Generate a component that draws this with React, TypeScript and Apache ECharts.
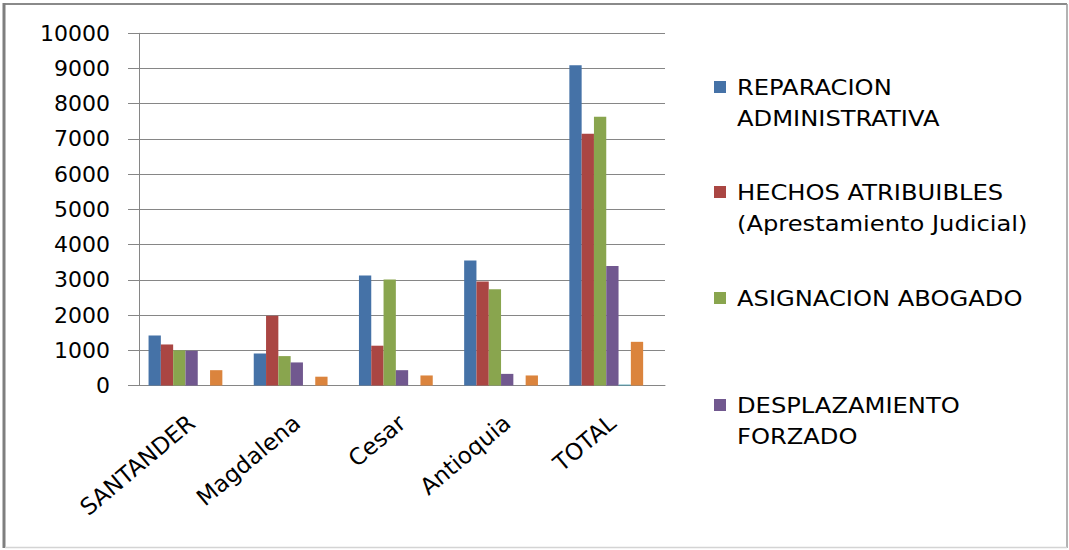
import React, { useEffect, useRef } from "react";
import * as echarts from "echarts";

const categories = ["SANTANDER", "Magdalena", "Cesar", "Antioquia", "TOTAL"];
const reparacion = [1420, 910, 3125, 3550, 9090];
const hechos = [1165, 1980, 1130, 2950, 7150];
const asignacion = [1000, 835, 3010, 2730, 7630];
const desplazamiento = [985, 655, 435, 330, 3390];
const serie5 = [0, 0, 0, 0, 25];
const serie6 = [435, 250, 285, 285, 1240];
const serie7 = [0, 0, 0, 0, 0];
const yTicks = [0, 1000, 2000, 3000, 4000, 5000, 6000, 7000, 8000, 9000, 10000];

const seriesNames = [
  "REPARACION ADMINISTRATIVA",
  "HECHOS ATRIBUIBLES (Aprestamiento Judicial)",
  "ASIGNACION ABOGADO",
  "DESPLAZAMIENTO FORZADO",
  "Serie5",
  "Serie6",
  "Serie7",
];
const legendLines = [
  ["REPARACION", "ADMINISTRATIVA"],
  ["HECHOS ATRIBUIBLES", "(Aprestamiento Judicial)"],
  ["ASIGNACION ABOGADO"],
  ["DESPLAZAMIENTO", "FORZADO"],
];
const legendCenters = [87, 192, 298, 405];
const colors = ["#4572A7", "#AA4643", "#89A54E", "#71588F", "#4198AF", "#DB843D", "#4572A7"];

const FONT = "DejaVu Sans";

export default function App() {
  const ref = useRef<HTMLDivElement>(null);
  useEffect(() => {
    if (!ref.current) return;
    const chart = echarts.init(ref.current, null, { renderer: "svg" });
    const values = [reparacion, hechos, asignacion, desplazamiento, serie5, serie6, serie7];
    const legendGraphics: any[] = [];
    legendLines.forEach((lines, i) => {
      legendGraphics.push({
        type: "rect",
        shape: { x: 714, y: legendCenters[i] - 6, width: 12, height: 12 },
        style: { fill: colors[i] },
      });
      legendGraphics.push({
        type: "text",
        x: 737,
        y: legendCenters[i] - 15.5,
        scaleX: 1.1,
        style: {
          text: lines.join("\n"),
          font: `22px "${FONT}"`,
          fill: "#000",
          lineHeight: 31,
          verticalAlign: "top",
        },
      });
    });
    chart.setOption({
      animation: false,
      backgroundColor: "#fff",
      grid: { left: 139, top: 33.3, right: 404, bottom: 164.5 },
      xAxis: {
        type: "category",
        data: categories,
        axisLine: { lineStyle: { color: "#868686" } },
        axisTick: { length: 8, lineStyle: { color: "#868686" } },
        axisLabel: {
          rotate: 40,
          interval: 0,
          margin: 34,
          fontFamily: FONT,
          fontSize: 23,
          color: "#000",
        },
      },
      yAxis: {
        type: "value",
        min: 0,
        max: 10000,
        interval: 1000,
        axisLine: { show: true, lineStyle: { color: "#868686" } },
        axisTick: { show: true, inside: false, length: 11, lineStyle: { color: "#868686" } },
        splitLine: { lineStyle: { color: "#868686", width: 1 } },
        axisLabel: {
          margin: 29,
          fontFamily: FONT,
          fontSize: 22,
          color: "#000",
          formatter: (v: number) => (yTicks.includes(v) ? String(v) : ""),
        },
      },
      series: values.map((d, i) => ({
        type: "bar",
        name: seriesNames[i],
        data: d,
        barWidth: 12.3,
        barGap: "0%",
        itemStyle: { color: colors[i] },
      })),
      graphic: [
        { type: "line", shape: { x1: 4, y1: 4, x2: 1067, y2: 4 }, style: { stroke: "#8a8a8a", lineWidth: 2 } },
        { type: "line", shape: { x1: 4, y1: 3, x2: 4, y2: 548 }, style: { stroke: "#7f7f7f", lineWidth: 3 } },
        { type: "line", shape: { x1: 1067, y1: 4, x2: 1067, y2: 548 }, style: { stroke: "#9a9a9a", lineWidth: 1.5 } },
        { type: "line", shape: { x1: 5, y1: 547.5, x2: 1067, y2: 547.5 }, style: { stroke: "#d4d4d4", lineWidth: 1.5 } },
        ...legendGraphics,
      ],
    });
    return () => chart.dispose();
  }, []);
  return (
    <div
      ref={ref}
      style={{ position: "fixed", left: 0, top: 0, width: 1069, height: 550 }}
    />
  );
}
